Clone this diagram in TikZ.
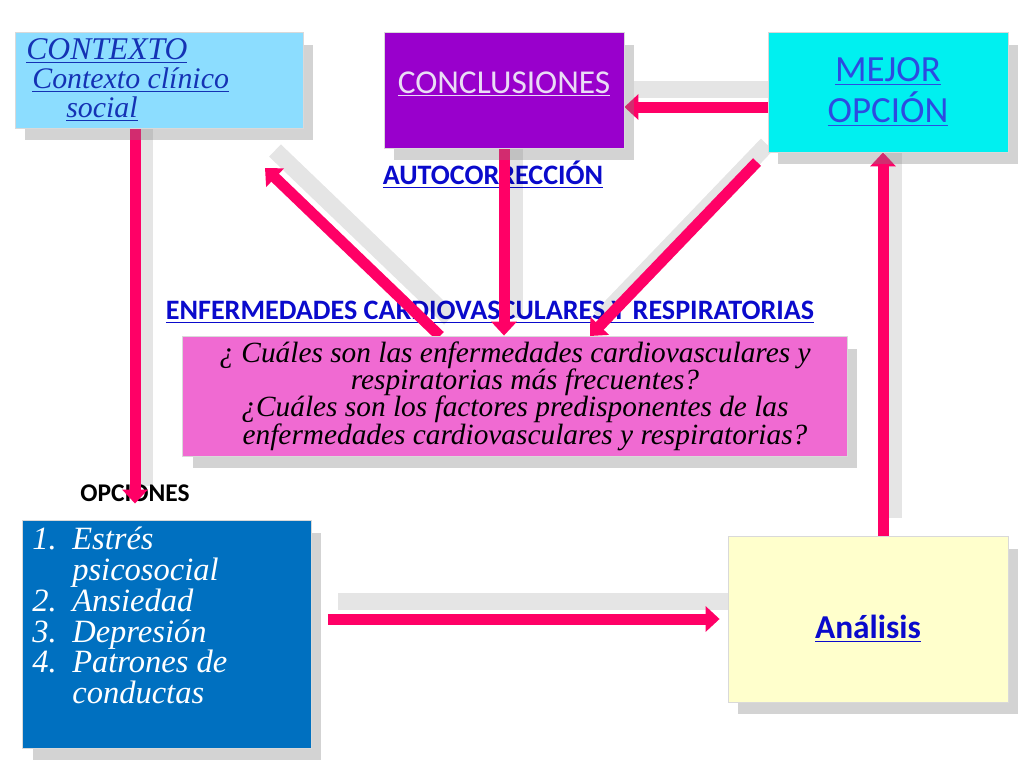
\documentclass[tikz,border=0pt]{standalone}
\usepackage{fontspec}
\setmainfont{Liberation Serif}
\setsansfont{Carlito}
\usepackage{tikz}
\usepackage{xcolor}
\usetikzlibrary{arrows.meta,positioning,shadows,calc,backgrounds}
\definecolor{arrowpink}{HTML}{FF0066}
\definecolor{ctxblue}{HTML}{8CDDFF}
\definecolor{conclpurple}{HTML}{9900CC}
\definecolor{bestcyan}{HTML}{00F0F0}
\definecolor{pregpink}{HTML}{F06AD2}
\definecolor{listblue}{HTML}{0070C0}
\definecolor{analyellow}{HTML}{FFFFCC}
\definecolor{linkblue}{HTML}{0A0ACC}
\definecolor{ctxtext}{HTML}{1432B4}
\definecolor{besttext}{HTML}{2D4BE0}
\definecolor{concltext}{HTML}{EADCF5}
\tikzset{
  flowbox/.style={draw=white!70!gray,line width=0.5pt,
                  align=center,inner sep=2pt,
                  drop shadow={opacity=0.35,shadow xshift=0.2cm,shadow yshift=-0.25cm}},
  headtext/.style={font=\sffamily\bfseries\fontsize{16pt}{19pt}\selectfont,
                   text=linkblue,inner sep=1pt},
  flowarr/.style={draw=arrowpink,line width=0.22cm,
                  -{Triangle[length=0.28cm,width=0.5cm]},
                  preaction={draw=black,opacity=0.1,line width=0.34cm,-,
                             transform canvas={shift={(0.2cm,0.35cm)}}}}
}

\begin{document}
\begin{tikzpicture}[x=0.02cm,y=-0.02cm]
  \useasboundingbox (0,0) rectangle (1024,768);
  % boxes
  \node[flowbox,fill=ctxblue,minimum width=5.76cm,minimum height=1.92cm] (contexto) at (159,80) {};
  \node[anchor=north west,align=left,text=ctxtext,inner sep=0pt,
        font=\itshape\fontsize{17pt}{15.5pt}\selectfont] (ctxlabel) at (26,38)
       {\underline{\fontsize{18pt}{15.5pt}\selectfont CONTEXTO}\\[1pt]
        \hspace{0.12cm}\underline{Contexto clínico}\\[1pt]
        \hspace{0.8cm}\underline{social}};
  \node[flowbox,fill=conclpurple,minimum width=4.8cm,minimum height=2.32cm,
        text=concltext,font=\sffamily\fontsize{19pt}{22pt}\selectfont] (conclusiones) at (504,90)
       {\underline{CONCLUSIONES}\\[-0.46cm]};
  \node[flowbox,fill=bestcyan,minimum width=4.8cm,minimum height=2.4cm,
        text=besttext,font=\sffamily\fontsize{21pt}{23pt}\selectfont] (mejor) at (888,92)
       {\underline{MEJOR}\\\underline{OPCIÓN}};
  \node[flowbox,fill=pregpink,minimum width=13.3cm,minimum height=2.4cm,
        font=\itshape\fontsize{16.7pt}{15.5pt}\selectfont] (preg) at (515,396)
       {¿ Cuáles son las enfermedades cardiovasculares y\\
        \hspace{0.4cm}respiratorias más frecuentes?\\
        ¿Cuáles son los factores predisponentes de las\\
        \hspace{0.4cm}enfermedades cardiovasculares y respiratorias?};
  \node[flowbox,fill=listblue,minimum width=5.78cm,minimum height=4.56cm] (lista) at (167,634) {};
  \node[anchor=north west,align=left,text=white,inner sep=0pt,
        font=\itshape\fontsize{18.5pt}{17.5pt}\selectfont] (listlabel) at (32,527)
       {\makebox[0.8cm][l]{1.}Estrés\\
        \hspace*{0.8cm}psicosocial\\
        \makebox[0.8cm][l]{2.}Ansiedad\\
        \makebox[0.8cm][l]{3.}Depresión\\
        \makebox[0.8cm][l]{4.}Patrones de\\
        \hspace*{0.8cm}conductas};
  \node[flowbox,fill=analyellow,minimum width=5.6cm,minimum height=3.32cm,
        headtext,font=\sffamily\bfseries\fontsize{19pt}{22pt}\selectfont] (analisis) at (868,619)
       {\\[0.1cm]\underline{Análisis}};
  % labels and connectors, under the boxes
  \begin{scope}[on background layer]
    \node[headtext] (autocorr) at (493,175) {\underline{AUTOCORRECCIÓN}};
    \node[headtext] (enferm) at (490,312) {\underline{ENFERMEDADES CARDIOVASCULARES Y RESPIRATORIAS}};
    \node[font=\sffamily\bfseries\fontsize{14.5pt}{17pt}\selectfont,inner sep=1pt] (opclabel) at (135,493) {OPCIONES};
    \coordinate (upfree) at (265,168);
    \coordinate (upfoot) at (440,336);
    \coordinate (dnfree) at (757,162);
    \coordinate (dnfoot) at (590,336);
    \coordinate (anin) at ($(analisis.north)+(15,0)$);
    \coordinate (bestout) at ($(mejor.west)+(0,15)$);
    \draw[flowarr] (opclabel.center |- contexto.south) -- (opclabel.south);
    \draw[flowarr] (conclusiones.south) -- (conclusiones.south |- preg.north);
    \draw[flowarr] (upfoot) -- (upfree);
    \draw[flowarr] (dnfree) -- (dnfoot);
    \draw[flowarr] (bestout) -- (bestout -| conclusiones.east);
    \draw[flowarr] (anin) -- (anin |- mejor.south);
    \draw[flowarr,shorten <=0.32cm,shorten >=0.16cm] (lista.east |- analisis.west) -- (analisis.west);
  \end{scope}
\end{tikzpicture}
\end{document}
